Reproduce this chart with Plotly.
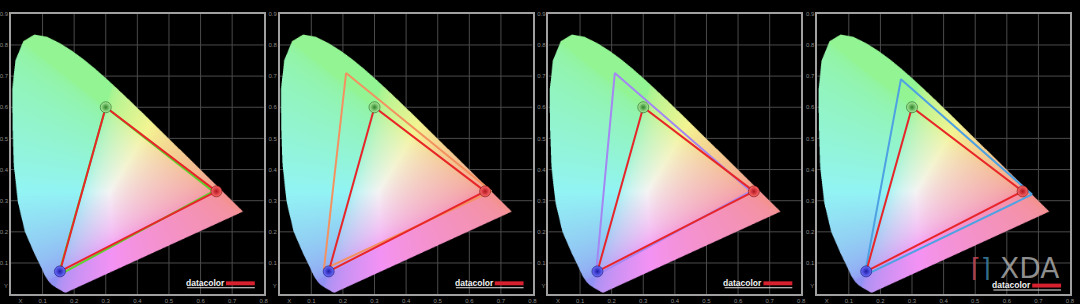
import base64, struct, zlib
import numpy as np
import plotly.graph_objects as go

# ---------------- data ----------------
# Spectral-locus outline as drawn in the chart (CIE 1931 xy, 380-700 nm, 5 nm steps)
locus_x = [0.1741, 0.1740, 0.1738, 0.1736, 0.1733, 0.1730, 0.1726, 0.1721, 0.1712, 0.1695,
           0.1672, 0.1640, 0.1600, 0.1550, 0.1480, 0.1400, 0.1300, 0.1200, 0.1080, 0.0950,
           0.0730, 0.0440, 0.0220, 0.0090, 0.0050, 0.0039, 0.0139, 0.0389, 0.0743, 0.1142,
           0.1547, 0.1929, 0.2296, 0.2658, 0.3016, 0.3373, 0.3731, 0.4087, 0.4441, 0.4788,
           0.5125, 0.5448, 0.5752, 0.6029, 0.6270, 0.6482, 0.6658, 0.6801, 0.6915, 0.7006,
           0.7079, 0.7140, 0.7190, 0.7230, 0.7260, 0.7283, 0.7300, 0.7311, 0.7320, 0.7327,
           0.7334, 0.7340, 0.7344, 0.7346, 0.7347]
locus_y = [0.0050, 0.0050, 0.0049, 0.0049, 0.0048, 0.0048, 0.0048, 0.0048, 0.0051, 0.0058,
           0.0069, 0.0086, 0.0109, 0.0138, 0.0177, 0.0227, 0.0297, 0.0399, 0.0578, 0.0868,
           0.1327, 0.2007, 0.2950, 0.4127, 0.5384, 0.6548, 0.7502, 0.8120, 0.8338, 0.8262,
           0.8059, 0.7816, 0.7543, 0.7243, 0.6923, 0.6589, 0.6245, 0.5896, 0.5547, 0.5202,
           0.4866, 0.4544, 0.4242, 0.3965, 0.3725, 0.3514, 0.3340, 0.3197, 0.3083, 0.2993,
           0.2920, 0.2859, 0.2809, 0.2770, 0.2740, 0.2717, 0.2700, 0.2689, 0.2680, 0.2673,
           0.2666, 0.2660, 0.2656, 0.2654, 0.2653]

x_ticks = [0.1, 0.2, 0.3, 0.4, 0.5, 0.6, 0.7, 0.8]
x_tick_labels = ["0.1", "0.2", "0.3", "0.4", "0.5", "0.6", "0.7", "0.8"]
y_ticks = [0.1, 0.2, 0.3, 0.4, 0.5, 0.6, 0.7, 0.8, 0.9]
y_tick_labels = ["0.1", "0.2", "0.3", "0.4", "0.5", "0.6", "0.7", "0.8", "0.9"]

# measured display primaries (R, G, B)
measured_x = [0.650, 0.300, 0.155]
measured_y = [0.330, 0.600, 0.073]

# reference gamuts (R, G, B): sRGB, NTSC, Adobe RGB, DCI-P3
srgb_x = [0.64, 0.30, 0.15]
srgb_y = [0.33, 0.60, 0.06]
ntsc_x = [0.67, 0.21, 0.14]
ntsc_y = [0.33, 0.71, 0.08]
adobe_x = [0.64, 0.21, 0.15]
adobe_y = [0.33, 0.71, 0.06]
p3_x = [0.68, 0.265, 0.15]
p3_y = [0.32, 0.69, 0.06]

panel_refs = [(srgb_x, srgb_y, "#5cd22c"),
              (ntsc_x, ntsc_y, "#f39260"),
              (adobe_x, adobe_y, "#a487f2"),
              (p3_x, p3_y, "#4ea2e2")]

XMAX, YMAX = 0.8, 0.9

# ---------------- horseshoe image ----------------
def inside(px, py, vx, vy):
    res = np.zeros(px.shape, dtype=bool)
    n = len(vx)
    j = n - 1
    for i in range(n):
        xi, yi, xj, yj = vx[i], vy[i], vx[j], vy[j]
        if yi != yj:
            cond = ((yi > py) != (yj > py)) & (px < (xj - xi) * (py - yi) / (yj - yi) + xi)
            res ^= cond
        j = i
    return res

W, H, SS = 320, 360, 3
vx = np.array(locus_x); vy = np.array(locus_y)
sx = (np.arange(W * SS) + 0.5) / (W * SS) * XMAX
sy = YMAX - (np.arange(H * SS) + 0.5) / (H * SS) * YMAX
SX, SY = np.meshgrid(sx, sy)
mask = inside(SX, SY, vx, vy).astype(float)
alpha = mask.reshape(H, SS, W, SS).mean(axis=(1, 3))

cx = (np.arange(W) + 0.5) / W * XMAX
cy = YMAX - (np.arange(H) + 0.5) / H * YMAX
CX, CY = np.meshgrid(cx, cy)
CZ = 1 - CX - CY
M = np.array([[3.2406, -1.5372, -0.4986],
              [-0.9689, 1.8758, 0.0415],
              [0.0557, -0.2040, 1.0570]])
XYZ = np.stack([CX, CY, CZ], axis=-1)
rgb = XYZ @ M.T
rgb = np.clip(rgb, 0, None)
rgb = rgb / np.maximum(rgb.max(axis=-1, keepdims=True), 1e-9)
rgb = rgb ** (1 / 2.2)
w = 0.6
rgb = (w + (1 - w) * rgb) * 0.96
rgba = np.zeros((H, W, 4), dtype=np.uint8)
rgba[..., :3] = np.clip(rgb * 255, 0, 255).astype(np.uint8)
rgba[..., 3] = np.clip(alpha * 255, 0, 255).astype(np.uint8)

def png_bytes(a):
    h, w_, _ = a.shape
    raw = b"".join(b"\x00" + a[r].tobytes() for r in range(h))
    def chunk(t, d):
        c = struct.pack(">I", len(d)) + t + d
        return c + struct.pack(">I", zlib.crc32(t + d) & 0xffffffff)
    return (b"\x89PNG\r\n\x1a\n" + chunk(b"IHDR", struct.pack(">IIBBBBB", w_, h, 8, 6, 0, 0, 0))
            + chunk(b"IDAT", zlib.compress(raw, 9)) + chunk(b"IEND", b""))

uri = "data:image/png;base64," + base64.b64encode(png_bytes(rgba)).decode()

# ---------------- figure ----------------
FW, FH = 1080, 304
fig = go.Figure()
shapes, images, annotations = [], [], []
panel_left_px = [11, 281, 551, 821]
plot_w_px = 254
top_px, bot_px = 11, 296
tick_font = dict(family="Liberation Sans", size=6, color="#8a8a8a")

for k, (rx, ry, rcol) in enumerate(panel_refs):
    n = k + 1
    xa = "x" if n == 1 else f"x{n}"
    ya = "y" if n == 1 else f"y{n}"
    L = panel_left_px[k]
    fig.update_layout(**{
        ("xaxis" if n == 1 else f"xaxis{n}"): dict(
            domain=[L / FW, (L + plot_w_px) / FW], range=[0, XMAX], anchor=ya,
            showgrid=False, zeroline=False, showline=True, mirror=True,
            linecolor="#a0a0a0", linewidth=1.5, ticks="",
            tickvals=[0.03] + x_ticks, ticktext=["X"] + x_tick_labels,
            tickfont=tick_font, fixedrange=True),
        ("yaxis" if n == 1 else f"yaxis{n}"): dict(
            domain=[1 - bot_px / FH, 1 - top_px / FH], range=[0, YMAX], anchor=xa,
            showgrid=False, zeroline=False, showline=True, mirror=True,
            linecolor="#a0a0a0", linewidth=1.5, ticks="",
            tickvals=[0.025] + y_ticks, ticktext=["Y"] + y_tick_labels,
            tickfont=tick_font, fixedrange=True),
    })
    # grid lines (under the horseshoe)
    for t in x_ticks[:-1]:
        shapes.append(dict(type="line", xref=xa, yref=ya, x0=t, x1=t, y0=0, y1=YMAX,
                           line=dict(color="#4a4a4a", width=1), layer="below"))
    for t in y_ticks[:-1]:
        shapes.append(dict(type="line", xref=xa, yref=ya, x0=0, x1=XMAX, y0=t, y1=t,
                           line=dict(color="#4a4a4a", width=1), layer="below"))
    images.append(dict(source=uri, xref=xa, yref=ya, x=0, y=YMAX, sizex=XMAX, sizey=YMAX,
                       xanchor="left", yanchor="top", sizing="stretch", layer="below"))
    # reference gamut triangle
    fig.add_trace(go.Scatter(x=rx + rx[:1], y=ry + ry[:1], mode="lines",
                             line=dict(color=rcol, width=2), xaxis=xa, yaxis=ya,
                             hoverinfo="skip", showlegend=False))
    # measured gamut triangle
    fig.add_trace(go.Scatter(x=measured_x + measured_x[:1], y=measured_y + measured_y[:1],
                             mode="lines", line=dict(color="#e8262a", width=2),
                             xaxis=xa, yaxis=ya, hoverinfo="skip", showlegend=False))
    # primaries spheres
    fig.add_trace(go.Scatter(
        x=measured_x, y=measured_y, mode="markers", xaxis=xa, yaxis=ya,
        marker=dict(size=11, color=["#ff6a6a", "#b0f5a0", "#7070ff"],
                    gradient=dict(type="radial", color=["#b0141e", "#2f7f2a", "#1c1ca8"]),
                    line=dict(width=0.6, color=["#701010", "#1f5a1c", "#101070"])),
        hoverinfo="skip", showlegend=False))
    # datacolor logo
    cyl = 284.7 if k < 3 else 287.0
    tx_end = L + 216
    annotations.append(dict(text="<b>datacolor</b>", xref="paper", yref="paper",
                            x=tx_end / FW, y=1 - cyl / FH, xanchor="right", yanchor="middle",
                            height=8, valign="middle", borderpad=0,
                            showarrow=False, font=dict(family="Liberation Sans", size=8.5, color="#f2f2f2")))
    shapes.append(dict(type="rect", xref="paper", yref="paper",
                       x0=tx_end / FW, x1=(L + 245) / FW,
                       y0=1 - (cyl + 2.3) / FH, y1=1 - (cyl - 1.7) / FH,
                       fillcolor="#d8202e", line=dict(width=0), layer="above"))
    shapes.append(dict(type="line", xref="paper", yref="paper",
                       x0=(L + 177) / FW, x1=(L + 245) / FW,
                       y0=1 - (cyl + 4.8) / FH, y1=1 - (cyl + 4.8) / FH,
                       line=dict(color="#e6e6e6", width=1), layer="above"))

# XDA watermark
xda_cy = 269.5
annotations.append(dict(text="[", xref="paper", yref="paper", x=980 / FW, y=1 - xda_cy / FH,
                        xanchor="center", yanchor="middle", showarrow=False, height=24, valign="middle",
                        borderpad=0,
                        font=dict(family="Liberation Sans", size=27, color="rgba(200,70,85,0.85)")))
annotations.append(dict(text="]", xref="paper", yref="paper", x=992 / FW, y=1 - xda_cy / FH,
                        xanchor="center", yanchor="middle", showarrow=False, height=24, valign="middle",
                        borderpad=0,
                        font=dict(family="Liberation Sans", size=27, color="rgba(60,130,165,0.85)")))
annotations.append(dict(text="XDA", xref="paper", yref="paper", x=1034 / FW, y=1 - xda_cy / FH,
                        xanchor="center", yanchor="middle", showarrow=False, height=24, valign="middle",
                        borderpad=0,
                        font=dict(family="DejaVu Sans", size=28, color="rgba(190,190,190,0.75)")))

fig.update_layout(width=FW, height=FH, margin=dict(l=0, r=0, t=0, b=0),
                  paper_bgcolor="black", plot_bgcolor="black",
                  shapes=shapes, images=images, annotations=annotations,
                  showlegend=False)
fig.write_html("out.html")
